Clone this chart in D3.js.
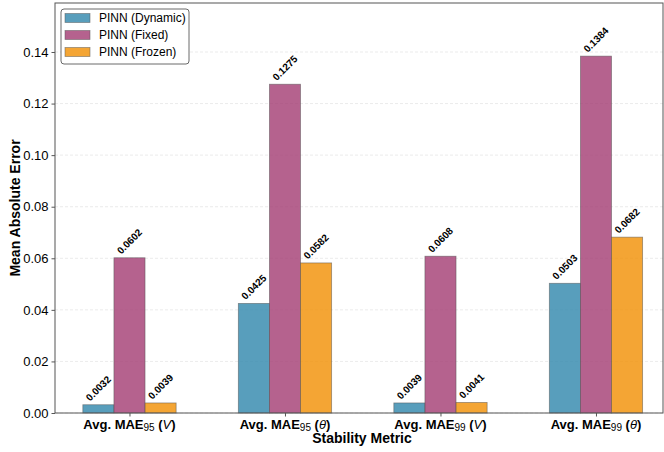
<!DOCTYPE html>
<html>
<head>
<meta charset="utf-8">
<script src="https://cdn.jsdelivr.net/npm/d3@7"></script>
<style>
  body { margin: 0; background: #fff; }
  svg { font-family: "Liberation Sans", Arial, sans-serif; }
</style>
</head>
<body>
<svg id="chart" width="664" height="452"></svg>
<script>
const metrics = ["MAE95V", "MAE95T", "MAE99V", "MAE99T"];
const metricParts = [
  { sub: "95", sym: "V" },
  { sub: "95", sym: "θ" },
  { sub: "99", sym: "V" },
  { sub: "99", sym: "θ" }
];
const seriesNames = ["PINN (Dynamic)", "PINN (Fixed)", "PINN (Frozen)"];
const seriesColors = ["#2E86AB", "#A23B72", "#F18F01"];
const dynamicVals = [0.0032, 0.0425, 0.0039, 0.0503];
const fixedVals = [0.0602, 0.1275, 0.0608, 0.1384];
const frozenVals = [0.0039, 0.0582, 0.0041, 0.0682];
const yTicks = [0, 0.02, 0.04, 0.06, 0.08, 0.10, 0.12, 0.14];

const series = [dynamicVals, fixedVals, frozenVals];

const svg = d3.select("#chart");
const margin = { top: 3, right: 1, bottom: 39, left: 55 };
const width = 664, height = 452;
const barW = 0.2;

const x = d3.scaleLinear()
  .domain([-0.479, 3.431])
  .range([margin.left, width - margin.right]);

const y = d3.scaleLinear()
  .domain([0, 0.159])
  .range([height - margin.bottom, margin.top]);

// grid
svg.append("g")
  .selectAll("line")
  .data(yTicks)
  .join("line")
  .attr("x1", margin.left)
  .attr("x2", width - margin.right)
  .attr("y1", d => y(d))
  .attr("y2", d => y(d))
  .attr("stroke", "#e6e6e6")
  .attr("stroke-width", 0.8)
  .attr("stroke-dasharray", "3,2");

// bars
series.forEach((vals, si) => {
  const off = (si - 1) * barW;
  svg.append("g")
    .selectAll("rect")
    .data(vals)
    .join("rect")
    .attr("x", (d, i) => x(i + off - barW / 2))
    .attr("y", d => y(d))
    .attr("width", x(barW) - x(0))
    .attr("height", d => y(0) - y(d))
    .attr("fill", seriesColors[si])
    .attr("fill-opacity", 0.8)
    .attr("stroke", "#555")
    .attr("stroke-opacity", 0.6)
    .attr("stroke-width", 0.8);

  // value labels
  const labels = svg.append("g")
    .selectAll("text")
    .data(vals)
    .join("text")
    .attr("text-anchor", "middle")
    .attr("dominant-baseline", "central")
    .style("font-size", "10px")
    .style("font-weight", "bold")
    .style("fill", "#000")
    .text(d => d.toFixed(4));
  labels.each(function (d, i) {
    const L = this.getComputedTextLength();
    const h = (L + 10) * Math.SQRT1_2;
    const cx = x(i + off);
    const cy = y(d) - 2 - h / 2;
    d3.select(this).attr("transform", `translate(${cx},${cy}) rotate(-45)`);
  });
});

// frame
svg.append("rect")
  .attr("x", margin.left)
  .attr("y", margin.top)
  .attr("width", width - margin.right - margin.left)
  .attr("height", height - margin.bottom - margin.top)
  .attr("fill", "none")
  .attr("stroke", "#555")
  .attr("stroke-width", 1);

// y axis
const yAxis = svg.append("g")
  .attr("transform", `translate(${margin.left},0)`)
  .call(d3.axisLeft(y).tickValues(yTicks).tickFormat(d3.format(".2f")).tickSize(3.5).tickPadding(3));
yAxis.select(".domain").remove();
yAxis.selectAll("line").attr("stroke", "#555");
yAxis.selectAll("text")
  .style("font-family", "'Liberation Sans', Arial, sans-serif")
  .style("font-size", "13px")
  .style("fill", "#000");

// x axis
const xAxis = svg.append("g")
  .attr("transform", `translate(0,${height - margin.bottom})`)
  .call(d3.axisBottom(x).tickValues([0, 1, 2, 3]).tickFormat("").tickSize(3.5));
xAxis.select(".domain").remove();
xAxis.selectAll("line").attr("stroke", "#555");

const xLabels = svg.append("g")
  .selectAll("text")
  .data(metricParts)
  .join("text")
  .attr("x", (d, i) => x(i))
  .attr("y", height - margin.bottom + 15.5)
  .attr("text-anchor", "middle")
  .style("font-size", "13px")
  .style("font-weight", "bold")
  .style("fill", "#000");
xLabels.append("tspan").text("Avg. MAE");
xLabels.append("tspan")
  .attr("dy", 2)
  .style("font-size", "10px")
  .style("font-weight", "normal")
  .text(d => d.sub);
xLabels.append("tspan").attr("dy", -2).text(" (");
xLabels.append("tspan")
  .style("font-style", "italic")
  .style("font-weight", "normal")
  .text(d => d.sym);
xLabels.append("tspan").text(")");

// axis titles
svg.append("text")
  .attr("x", 362)
  .attr("y", height - 9)
  .attr("text-anchor", "middle")
  .style("font-size", "14px")
  .style("font-weight", "bold")
  .text("Stability Metric");

svg.append("text")
  .attr("transform", `translate(20,${(margin.top + height - margin.bottom) / 2}) rotate(-90)`)
  .attr("text-anchor", "middle")
  .style("font-size", "14px")
  .style("font-weight", "bold")
  .text("Mean Absolute Error");

// legend
const legend = svg.append("g").attr("transform", "translate(61,9)");
legend.append("rect")
  .attr("width", 128)
  .attr("height", 55)
  .attr("rx", 3)
  .attr("fill", "#fff")
  .attr("stroke", "#444")
  .attr("stroke-width", 0.8);
seriesNames.forEach((name, i) => {
  const row = legend.append("g").attr("transform", `translate(4,${9 + i * 17})`);
  row.append("rect")
    .attr("y", -4.5)
    .attr("width", 25)
    .attr("height", 9)
    .attr("fill", seriesColors[i])
    .attr("fill-opacity", 0.8)
    .attr("stroke", "#555")
    .attr("stroke-opacity", 0.6)
    .attr("stroke-width", 0.8);
  row.append("text")
    .attr("x", 34)
    .attr("dy", "0.35em")
    .style("font-size", "12px")
    .text(name);
});
</script>
</body>
</html>
